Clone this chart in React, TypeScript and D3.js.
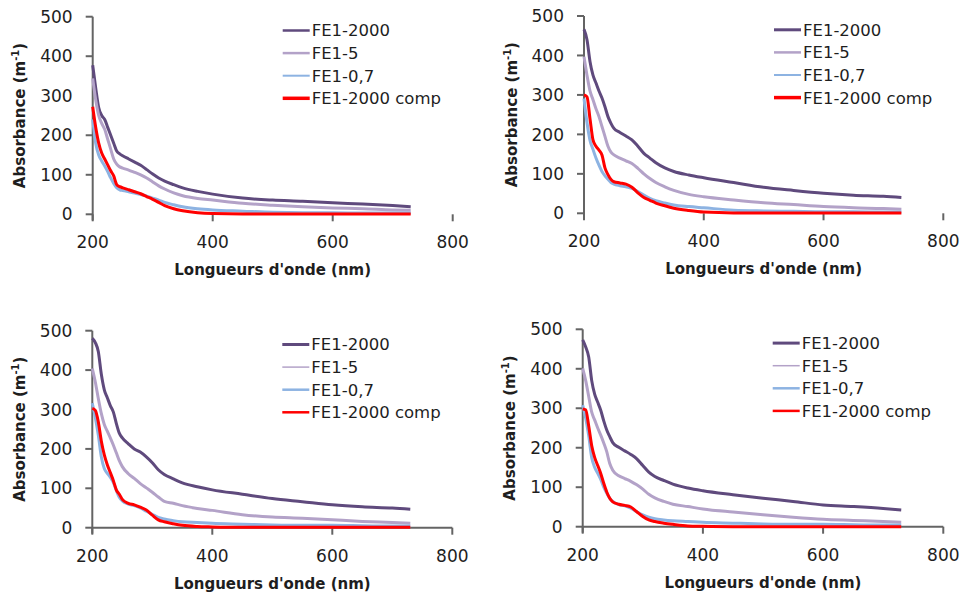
import React from "react";
import * as d3 from "d3";

const WAVELENGTHS = [200, 205, 210, 215, 220, 225, 230, 235, 240, 245, 250, 260, 270, 280, 290, 300, 310, 320, 335, 350, 375, 400, 450, 500, 550, 600, 650, 700, 730];

const SERIES_NAMES = ["FE1-2000", "FE1-5", "FE1-0,7", "FE1-2000 comp"];
const SERIES_COLORS = ["#5f4a7d", "#b3a2c8", "#8db3e2", "#ff0000"];

const X_TICKS = [200, 400, 600, 800];
const Y_TICKS = [0, 100, 200, 300, 400, 500];

// Panel 1 (top-left)
const P1_FE2000 = [377, 320, 270, 250, 240, 220, 200, 180, 160, 153, 148, 140, 132, 124, 113, 102, 92, 84, 75, 67, 58, 51, 41, 36, 33, 29, 26, 22, 19];
const P1_FE5 = [344, 290, 250, 230, 215, 190, 165, 140, 127, 120, 117, 112, 106, 100, 92, 82, 72, 64, 54, 47, 40, 36, 28, 23, 19, 16, 14, 11, 10];
const P1_FE07 = [240, 180, 150, 135, 122, 108, 92, 78, 67, 62, 60, 57, 54, 50, 46, 41, 36, 30, 24, 19, 14, 11, 8, 5, 4, 4, 3, 3, 3];
const P1_COMP = [272, 220, 180, 155, 140, 125, 110, 97, 75, 70, 67, 62, 57, 52, 45, 38, 30, 22, 14, 9, 4, 2, 1, 1, 1, 1, 1, 1, 1];

// Panel 2 (top-right)
const P2_FE2000 = [466, 440, 385, 350, 330, 310, 292, 270, 245, 228, 215, 205, 196, 186, 170, 152, 140, 128, 115, 106, 97, 90, 78, 66, 58, 51, 46, 43, 40];
const P2_FE5 = [397, 350, 310, 288, 265, 245, 220, 195, 170, 155, 148, 140, 133, 126, 114, 100, 88, 78, 67, 58, 48, 42, 34, 27, 22, 17, 14, 12, 10];
const P2_FE07 = [291, 230, 185, 162, 140, 122, 106, 95, 86, 78, 74, 70, 67, 63, 55, 46, 38, 32, 26, 21, 17, 14, 8, 6, 5, 4, 4, 3, 3];
const P2_COMP = [300, 295, 240, 186, 170, 160, 148, 115, 98, 86, 80, 77, 74, 66, 52, 40, 33, 26, 19, 13, 7, 3, 1, 1, 1, 1, 1, 1, 1];

// Panel 3 (bottom-left)
const P3_FE2000 = [481, 470, 447, 390, 350, 330, 310, 294, 265, 240, 228, 213, 200, 192, 180, 165, 147, 135, 124, 114, 104, 96, 85, 74, 66, 58, 53, 50, 47];
const P3_FE5 = [404, 370, 328, 290, 262, 245, 228, 210, 190, 170, 155, 137, 125, 112, 101, 90, 78, 67, 62, 56, 49, 44, 33, 27, 24, 20, 16, 13, 11];
const P3_FE07 = [316, 280, 235, 180, 150, 138, 128, 115, 95, 77, 68, 60, 56, 50, 42, 34, 26, 22, 18, 15, 13, 11, 9, 7, 6, 6, 5, 4, 4];
const P3_COMP = [303, 298, 269, 220, 185, 160, 140, 120, 96, 85, 72, 62, 58, 52, 45, 32, 20, 15, 10, 6, 3, 2, 1, 1, 1, 1, 1, 1, 1];

// Panel 4 (bottom-right)
const P4_FE2000 = [473, 455, 430, 370, 335, 315, 295, 268, 245, 228, 213, 201, 192, 183, 172, 155, 138, 127, 117, 108, 98, 91, 81, 72, 64, 55, 51, 46, 42];
const P4_FE5 = [401, 370, 330, 290, 270, 250, 232, 212, 190, 160, 143, 129, 122, 115, 106, 95, 82, 73, 64, 57, 51, 45, 37, 30, 24, 19, 16, 13, 11];
const P4_FE07 = [308, 275, 230, 175, 150, 135, 120, 100, 85, 72, 64, 56, 53, 47, 38, 30, 24, 20, 17, 15, 13, 11, 9, 7, 6, 6, 5, 4, 4];
const P4_COMP = [298, 296, 255, 205, 175, 155, 135, 110, 88, 72, 63, 57, 54, 50, 38, 26, 17, 13, 9, 6, 2, 1, 0, 0, 0, 0, 0, 0, 0];

const PANELS = [
  { x0: 92.7, x1: 452.7, y0: 214.3, y1: 16.7, series: [P1_FE2000, P1_FE5, P1_FE07, P1_COMP], xLine: false, skipY: [300], legW: [2.5, 2.5, 2, 3.5] },
  { x0: 584, x1: 943.3, y0: 213.3, y1: 16, series: [P2_FE2000, P2_FE5, P2_FE07, P2_COMP], xLine: false, skipY: [], legW: [3, 2.5, 2, 3.5] },
  { x0: 92.3, x1: 452.3, y0: 527.7, y1: 330.7, series: [P3_FE2000, P3_FE5, P3_FE07, P3_COMP], xLine: true, skipY: [300], legW: [3, 1.5, 2.5, 2.5] },
  { x0: 582.7, x1: 943.3, y0: 526.7, y1: 329.3, series: [P4_FE2000, P4_FE5, P4_FE07, P4_COMP], xLine: true, skipY: [], legW: [3, 1.5, 2.5, 2.5] },
];

const AXIS = "#646464";
const TEXT = "#1e1e1e";
const FONT = "'DejaVu Sans', sans-serif";

function Panel({ p }: { p: any }) {
  const x = d3.scaleLinear().domain([200, 800]).range([p.x0, p.x1]);
  const y = d3.scaleLinear().domain([0, 500]).range([p.y0, p.y1]);
  const line = d3
    .line<number>()
    .x((_, i) => x(WAVELENGTHS[i]))
    .y((v) => y(v))
    .curve(d3.curveMonotoneX);
  const legX = p.x0 + 190;
  const legY0 = p.y1 + 13.8;
  const legStep = 22.6;
  const midY = (p.y0 + p.y1) / 2;
  const midX = (p.x0 + p.x1) / 2;
  return (
    <g>
      {/* y axis */}
      <line x1={p.x0} x2={p.x0} y1={p.y1} y2={p.y0 + 6} stroke={AXIS} strokeWidth={2} />
      {Y_TICKS.filter((t) => !p.skipY.includes(t)).map((t) => (
        <line key={"yt" + t} x1={p.x0 - 7} x2={p.x0} y1={y(t)} y2={y(t)} stroke={AXIS} strokeWidth={2} />
      ))}
      {Y_TICKS.map((t) => (
        <text key={"yl" + t} x={p.x0 - 20} y={y(t)} dy="0.36em" textAnchor="end" fontFamily={FONT} fontSize={17} fill={TEXT}>
          {t}
        </text>
      ))}
      {/* x axis */}
      {p.xLine && <line x1={p.x0} x2={p.x1} y1={p.y0} y2={p.y0} stroke={AXIS} strokeWidth={2} />}
      {X_TICKS.map((t) => (
        <line key={"xt" + t} x1={x(t)} x2={x(t)} y1={p.y0} y2={p.y0 + 7} stroke={AXIS} strokeWidth={2} />
      ))}
      {X_TICKS.map((t) => (
        <text key={"xl" + t} x={x(t)} y={p.y0 + 34} textAnchor="middle" fontFamily={FONT} fontSize={17} fill={TEXT}>
          {t}
        </text>
      ))}
      {/* data */}
      {p.series.map((s: number[], i: number) => (
        <path key={"s" + i} d={line(s) || ""} fill="none" stroke={SERIES_COLORS[i]} strokeWidth={3} strokeLinejoin="round" />
      ))}
      {/* legend */}
      {SERIES_NAMES.map((n, i) => (
        <g key={"lg" + i}>
          <line x1={legX} x2={legX + 27} y1={legY0 + i * legStep} y2={legY0 + i * legStep} stroke={SERIES_COLORS[i]} strokeWidth={p.legW[i]} />
          <text x={legX + 29} y={legY0 + i * legStep} dy="0.36em" fontFamily={FONT} fontSize={16.5} fill={TEXT}>
            {n}
          </text>
        </g>
      ))}
      {/* axis titles */}
      <text x={midX} y={p.y0 + 61} textAnchor="middle" fontFamily={FONT} fontWeight="bold" fontSize={15} fill={TEXT}>
        Longueurs d'onde (nm)
      </text>
      <text
        transform={`translate(${p.x0 - 72.7},${midY}) rotate(-90)`}
        textAnchor="middle"
        dy="0.36em"
        fontFamily={FONT}
        fontWeight="bold"
        fontSize={15}
        fill={TEXT}
      >
        Absorbance (m
        <tspan fontSize={10} dy="-6">-1</tspan>
        <tspan dy="6">)</tspan>
      </text>
    </g>
  );
}

export default function App() {
  return (
    <div style={{ position: "absolute", left: 0, top: 0 }}>
      <svg width={962} height={599} style={{ display: "block", background: "#ffffff" }}>
        {PANELS.map((p, i) => (
          <Panel key={i} p={p} />
        ))}
      </svg>
    </div>
  );
}
